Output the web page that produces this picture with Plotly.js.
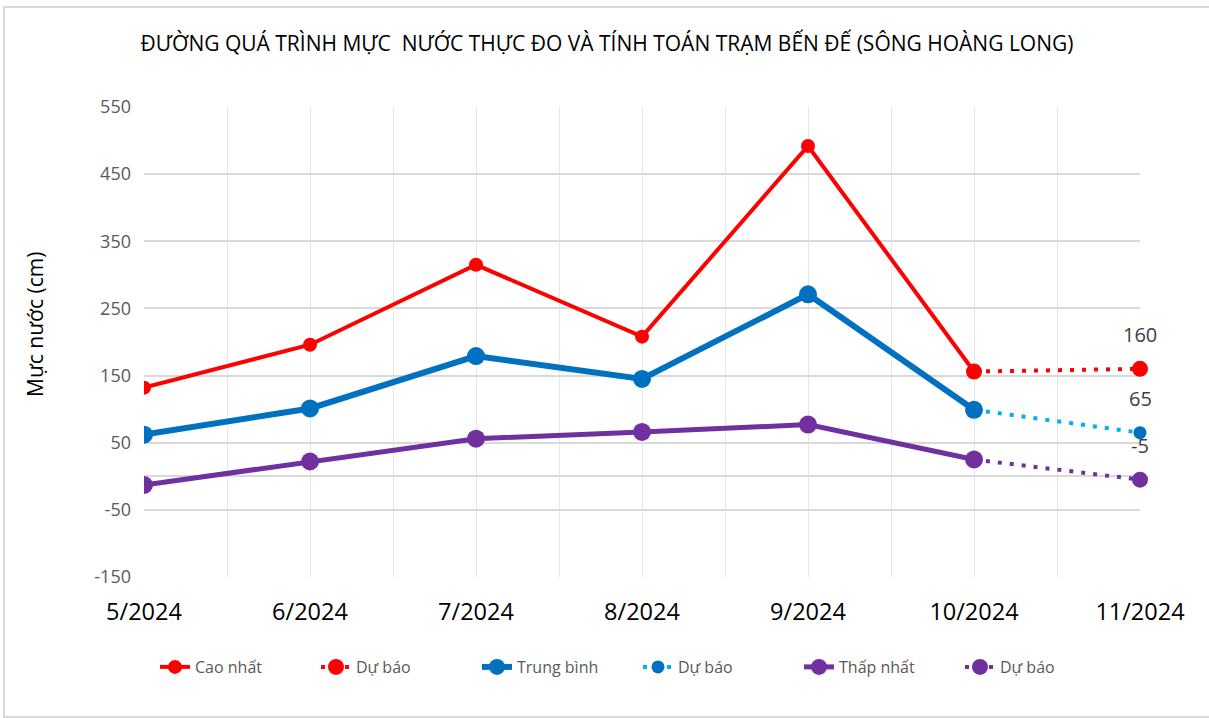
<!DOCTYPE html>
<html>
<head>
<meta charset="utf-8">
<script src="https://cdn.plot.ly/plotly-3.0.1.min.js"></script>
<style>
  html, body { margin:0; padding:0; background:#fff; }
  #wrap { position:relative; width:1209px; height:718px; }
  #chart { position:absolute; left:0; top:0; width:1209px; height:718px; }
  #frame { position:absolute; left:3px; top:6px; width:1220px; height:708px; border:2px solid #d9d9d9; pointer-events:none; }
</style>
</head>
<body>
<div id="wrap"><div id="chart"></div><div id="frame"></div></div>
<script>
const categories = ["5/2024","6/2024","7/2024","8/2024","9/2024","10/2024","11/2024"];
const caoNhat    = [132, 196, 315, 208, 492, 156, null];
const caoDuBao   = [null, null, null, null, null, 156, 160];
const trungBinh  = [62, 101, 179, 145, 271, 99, null];
const tbDuBao    = [null, null, null, null, null, 99, 65];
const thapNhat   = [-13, 22, 56, 66, 77, 25, null];
const tnDuBao    = [null, null, null, null, null, 25, -5];
const yTicks     = [-150, -50, 50, 150, 250, 350, 450, 550];

const xs = categories.map((c, i) => i);
const lastIdx = xs.length - 1;

const FONT = "'Open Sans', sans-serif";
const labelFont = {family: FONT, size: 20, color: "#404040"};

const traces = [
  {x: xs, y: caoNhat, name: "Cao nhất", mode: "lines+markers",
   line: {color: "#FF0000", width: 4}, marker: {color: "#FF0000", size: 14}},
  {x: xs, y: caoDuBao, name: "Dự báo", mode: "lines+markers", cliponaxis: false,
   line: {color: "#FF0000", width: 4, dash: "4px,8px"}, marker: {color: "#FF0000", size: 16}},
  {x: xs, y: trungBinh, name: "Trung bình", mode: "lines+markers",
   line: {color: "#0070C0", width: 6}, marker: {color: "#0070C0", size: 18}},
  {x: xs, y: tbDuBao, name: "Dự báo", mode: "lines+markers", cliponaxis: false,
   line: {color: "#00B0F0", width: 4, dash: "4px,8px"}, marker: {color: "#0070C0", size: 13}},
  {x: xs, y: thapNhat, name: "Thấp nhất", mode: "lines+markers",
   line: {color: "#7030A0", width: 5}, marker: {color: "#7030A0", size: 18}},
  {x: xs, y: tnDuBao, name: "Dự báo", mode: "lines+markers", cliponaxis: false,
   line: {color: "#7030A0", width: 4, dash: "4px,8px"}, marker: {color: "#7030A0", size: 16}}
];

const dataLabels = [caoDuBao, tbDuBao, tnDuBao].map(arr => ({
  x: lastIdx, y: arr[lastIdx], xref: "x", yref: "y", text: String(arr[lastIdx]),
  showarrow: false, yshift: 34, xanchor: "center", yanchor: "middle", font: labelFont
}));

const layout = {
  width: 1209, height: 718,
  margin: {l: 144, r: 69, t: 107, b: 141},
  paper_bgcolor: "rgba(0,0,0,0)", plot_bgcolor: "#fff",
  font: {family: FONT, color: "#595959"},
  title: {text: "ĐƯỜNG QUÁ TRÌNH MỰC  NƯỚC THỰC ĐO VÀ TÍNH TOÁN TRẠM BẾN ĐẾ (SÔNG HOÀNG LONG)",
          font: {family: FONT, size: 21, color: "#000"}, x: 607/1209, xanchor: "center",
          y: 1 - 44/718, yanchor: "middle", xref: "container", yref: "container"},
  xaxis: {range: [0, 6], tickmode: "array", tickvals: xs, ticktext: categories,
          showgrid: true, gridcolor: "#e6e6e6", gridwidth: 1, zeroline: false,
          showline: false, ticks: "", tickfont: {family: FONT, size: 23.5, color: "#000"},
          ticklabelstandoff: 18,
          minor: {tickmode: "linear", tick0: 0.5, dtick: 1, showgrid: true, gridcolor: "#e6e6e6", gridwidth: 1}},
  yaxis: {range: [-150, 550], tickmode: "array", tickvals: yTicks, ticktext: yTicks.map(String),
          showgrid: true, gridcolor: "#d9d9d9", gridwidth: 2,
          zeroline: true, zerolinecolor: "#d9d9d9", zerolinewidth: 2,
          showline: false, ticks: "", tickfont: {family: FONT, size: 18, color: "#595959"},
          ticklabelstandoff: 12},
  showlegend: true,
  legend: {orientation: "h", x: (638-144)/996, xanchor: "center", y: -(667-577)/470, yanchor: "middle",
           font: {family: FONT, size: 16, color: "#595959"}, entrywidth: 116, traceorder: "normal",
           bgcolor: "rgba(0,0,0,0)"},
  annotations: [
    {text: "Mực nước (cm)", xref: "paper", yref: "paper", x: (35-144)/996, y: (577-325)/470,
     textangle: -90, showarrow: false, xanchor: "center", yanchor: "middle",
     font: {family: FONT, size: 21, color: "#000"}}
  ].concat(dataLabels)
};

Plotly.newPlot("chart", traces, layout, {displayModeBar: false, staticPlot: true});
</script>
</body>
</html>
